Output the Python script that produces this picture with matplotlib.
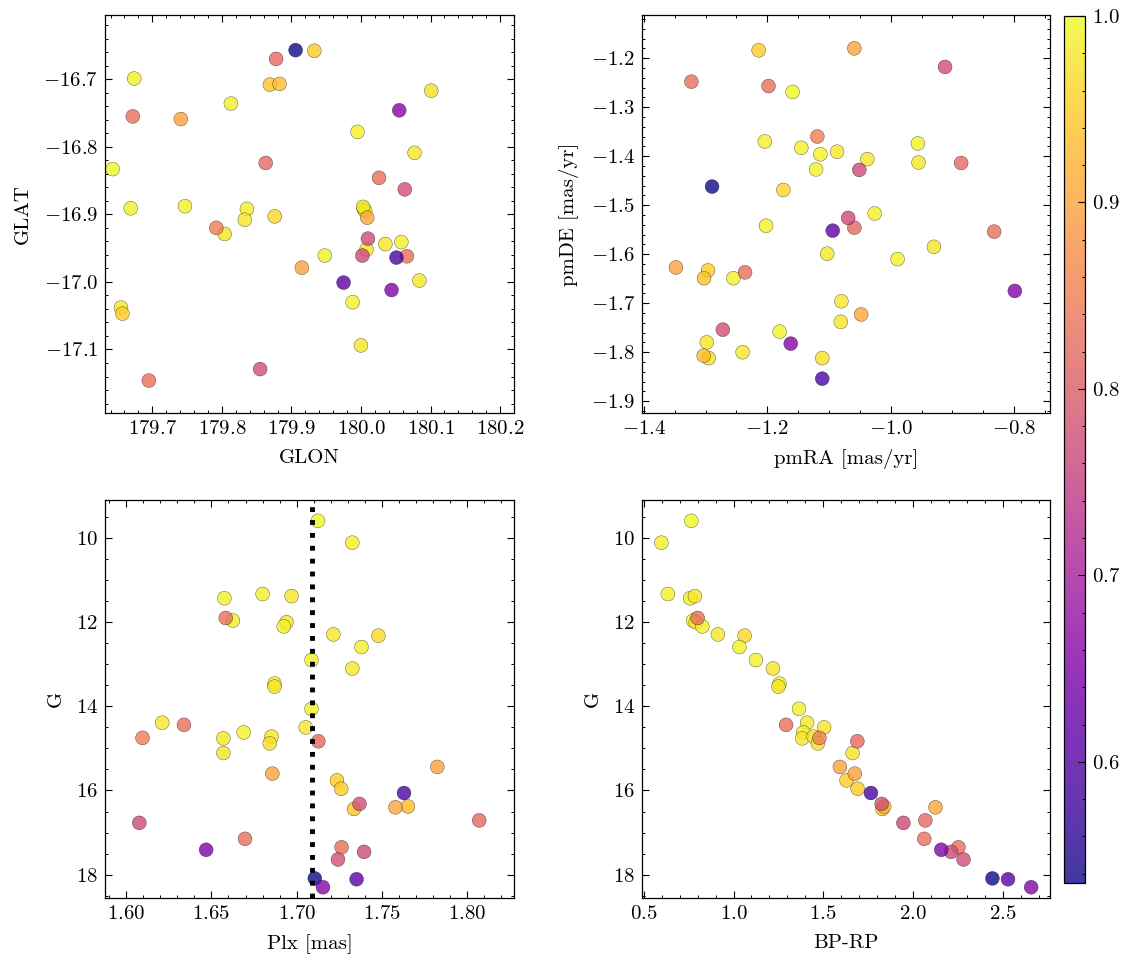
import numpy as np
import matplotlib
matplotlib.use("Agg")
import matplotlib.pyplot as plt
from matplotlib.ticker import MultipleLocator

plt.rcParams.update({
    "font.family": "cmr10",
    "mathtext.fontset": "cm",
    "axes.formatter.use_mathtext": True,
    "font.size": 15,
    "axes.linewidth": 0.9,
    "axes.labelpad": 8,
    "xtick.direction": "in",
    "ytick.direction": "in",
    "xtick.top": True,
    "ytick.right": True,
    "xtick.minor.visible": True,
    "ytick.minor.visible": True,
    "xtick.major.size": 5,
    "ytick.major.size": 5,
    "xtick.minor.size": 2.5,
    "ytick.minor.size": 2.5,
    "xtick.major.width": 0.8,
    "ytick.major.width": 0.8,
    "xtick.minor.width": 0.7,
    "ytick.minor.width": 0.7,
    "xtick.major.pad": 5,
    "ytick.major.pad": 5,
})

# one entry per star (membership probability and Gaia columns)
prob = [1.00, 0.99, 0.99, 0.99, 0.98, 0.99, 0.98, 0.99, 0.98, 0.965, 0.99, 0.99,
        0.98, 0.99, 0.98, 0.99, 0.98, 0.98, 0.99, 0.98, 0.98, 0.97, 0.975,
        0.95, 0.95, 0.94, 0.93,
        0.90, 0.90, 0.905,
        0.83, 0.83, 0.85, 0.82, 0.82, 0.83, 0.83,
        0.78, 0.77, 0.77, 0.78,
        0.535, 0.59, 0.61, 0.65, 0.66]
glon = [179.643, 179.674, 179.669, 179.747, 179.655, 179.813, 179.804, 179.836,
        179.833, 179.876, 179.948, 179.988, 180.000, 179.995, 180.004, 180.006,
        180.008, 180.035, 180.058, 180.077, 180.084, 180.101, 180.003,
        179.657, 179.933, 179.869, 179.883,
        179.741, 179.915, 180.009,
        179.672, 179.695, 179.792, 179.863, 179.878, 180.026, 180.066,
        179.855, 180.010, 180.002, 180.063,
        179.906, 180.051, 179.975, 180.044, 180.055]
glat = [-16.833, -16.699, -16.891, -16.888, -17.038, -16.736, -16.929, -16.892,
        -16.908, -16.903, -16.961, -17.030, -17.094, -16.778, -16.892, -16.895,
        -16.952, -16.944, -16.941, -16.809, -16.998, -16.717, -16.889,
        -17.047, -16.658, -16.708, -16.707,
        -16.759, -16.979, -16.905,
        -16.755, -17.146, -16.920, -16.824, -16.670, -16.846, -16.962,
        -17.129, -16.936, -16.961, -16.863,
        -16.657, -16.964, -17.001, -17.012, -16.746]
pmra = [-1.159, -1.204, -1.145, -1.114, -1.087, -1.121, -1.038, -0.956,
        -0.955, -1.174, -1.202, -1.026, -1.103, -0.989, -0.930, -1.255,
        -1.080, -1.081, -1.180, -1.298, -1.240, -1.295, -1.111,
        -1.214, -1.296, -1.3025, -1.303,
        -1.059, -1.348, -1.048,
        -1.323, -1.198, -1.119, -0.886, -1.059, -0.8325, -1.236,
        -0.912, -1.051, -1.069, -1.272,
        -1.2895, -1.111, -1.094, -0.799, -1.162]
pmde = [-1.269, -1.370, -1.383, -1.396, -1.391, -1.427, -1.406, -1.374,
        -1.413, -1.469, -1.542, -1.517, -1.599, -1.610, -1.585, -1.649,
        -1.696, -1.738, -1.758, -1.780, -1.800, -1.812, -1.812,
        -1.184, -1.633, -1.649, -1.807,
        -1.180, -1.627, -1.723,
        -1.248, -1.257, -1.360, -1.414, -1.546, -1.554, -1.637,
        -1.218, -1.428, -1.526, -1.754,
        -1.462, -1.854, -1.552, -1.675, -1.7825]
plx = [1.7125, 1.7326, 1.680, 1.6576, 1.697, 1.6626, 1.694, 1.6924,
       1.7215, 1.7479, 1.738, 1.7087, 1.7326, 1.687, 1.687, 1.7087,
       1.6211, 1.7053, 1.6689, 1.657, 1.6852, 1.6842, 1.657,
       1.7236, 1.7261, 1.7336, 1.7652,
       1.7824, 1.6857, 1.7579,
       1.6584, 1.6339, 1.6096, 1.7127, 1.807, 1.6697, 1.7263,
       1.7368, 1.6077, 1.7395, 1.7242,
       1.7106, 1.7629, 1.7351, 1.6469, 1.7154]
gmag = [9.59, 10.11, 11.33, 11.43, 11.38, 11.96, 12.00, 12.10,
        12.29, 12.32, 12.59, 12.90, 13.10, 13.46, 13.53, 14.06,
        14.39, 14.50, 14.62, 14.76, 14.72, 14.88, 15.11,
        15.76, 15.96, 16.44, 16.38,
        15.44, 15.60, 16.40,
        11.90, 14.44, 14.75, 14.83, 16.71, 17.15, 17.35,
        16.32, 16.77, 17.46, 17.64,
        18.09, 16.06, 18.11, 17.41, 18.30]
bprp = [0.765, 0.598, 0.634, 0.758, 0.785, 0.775, 0.79, 0.826,
        0.913, 1.062, 1.033, 1.125, 1.22, 1.257, 1.25, 1.365,
        1.41, 1.505, 1.389, 1.383, 1.446, 1.47, 1.664,
        1.63, 1.692, 1.83, 1.84,
        1.593, 1.676, 2.126,
        0.80, 1.293, 1.479, 1.69, 2.069, 2.063, 2.254,
        1.826, 1.947, 2.213, 2.282,
        2.443, 1.766, 2.53, 2.158, 2.659]
plx_mean = 1.709

fig = plt.figure(figsize=(11.33, 9.65), dpi=100)
W, H = 1133, 965
def box(l, t, r, b):
    return [l / W, 1 - b / H, (r - l) / W, (b - t) / H]

ax1 = fig.add_axes(box(105, 15, 514, 413))
ax2 = fig.add_axes(box(642, 15, 1050, 413))
ax3 = fig.add_axes(box(105, 500, 514, 898))
ax4 = fig.add_axes(box(642, 500, 1050, 898))
cax = fig.add_axes(box(1064, 16, 1085, 883))

kw = dict(c=prob, cmap="plasma", s=100, alpha=0.8, edgecolors="k", linewidths=0.25)

sc = ax1.scatter(glon, glat, **kw)
ax1.set_xlim(179.632, 180.220)
ax1.set_ylim(-17.194, -16.605)
ax1.set_xlabel("GLON")
ax1.set_ylabel("GLAT")

ax2.scatter(pmra, pmde, **kw)
ax2.set_xlim(-1.403, -0.742)
ax2.set_ylim(-1.924, -1.112)
ax2.xaxis.set_major_locator(MultipleLocator(0.2))
ax2.set_xlabel("pmRA [mas/yr]")
ax2.set_ylabel("pmDE [mas/yr]")

ax3.scatter(plx, gmag, **kw)
ax3.axvline(plx_mean, color="k", ls=":", lw=3.5)
ax3.set_xlim(1.5876, 1.8274)
ax3.set_ylim(18.556, 9.095)
ax3.set_xlabel("Plx [mas]")
ax3.set_ylabel("G")

ax4.scatter(bprp, gmag, **kw)
ax4.set_xlim(0.49, 2.764)
ax4.set_ylim(18.556, 9.095)
ax4.set_xlabel("BP-RP")
ax4.set_ylabel("G")

cb = fig.colorbar(sc, cax=cax)
cb.minorticks_on()
cb.outline.set_linewidth(0.9)
cax.tick_params(which="both", direction="in")

fig.savefig("out.png", dpi=100)
